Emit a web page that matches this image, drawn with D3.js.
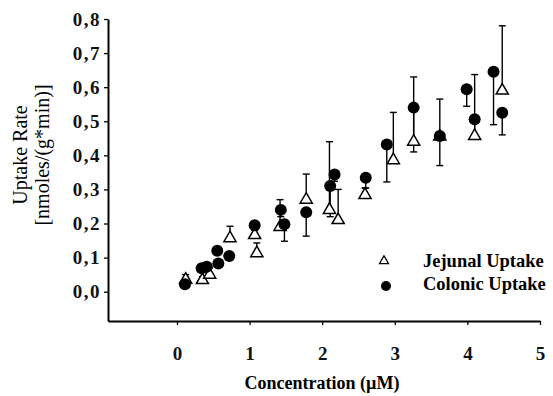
<!DOCTYPE html>
<html>
<head>
<meta charset="utf-8">
<script src="https://cdn.jsdelivr.net/npm/d3@7"></script>
<style>
  body { margin: 0; background: #fff; }
  svg { display: block; }
</style>
</head>
<body>
<figure id="chart" style="margin:0"></figure>
<script>
// jejunal uptake (open triangles, error bars drawn upward)
const jejConc = [0.12, 0.35, 0.45, 0.73, 1.07, 1.10, 1.42, 1.78, 2.10, 2.22, 2.59, 2.98, 3.26, 3.62, 4.10, 4.48]
const jejRate = [0.035, 0.034, 0.05, 0.157, 0.166, 0.113, 0.19, 0.27, 0.24, 0.21, 0.284, 0.386, 0.44, 0.455, 0.457, 0.59]
const jejErr  = [0.015, 0.01, 0.02, 0.035, 0.03, 0.03, 0.08, 0.075, 0.2, 0.09, 0.02, 0.14, 0.19, 0.11, 0.18, 0.19]

// colonic uptake (filled circles, error bars drawn downward)
const colConc = [0.11, 0.34, 0.41, 0.555, 0.57, 0.72, 1.07, 1.43, 1.48, 1.78, 2.11, 2.17, 2.60, 2.89, 3.26, 3.62, 3.99, 4.10, 4.36, 4.48]
const colRate = [0.022, 0.069, 0.073, 0.12, 0.083, 0.105, 0.195, 0.24, 0.198, 0.233, 0.31, 0.344, 0.334, 0.432, 0.54, 0.457, 0.594, 0.506, 0.645, 0.525]
const colErr  = [0.01, 0.01, 0.015, 0.01, 0.01, 0.01, 0.015, 0.02, 0.05, 0.07, 0.09, 0.02, 0.03, 0.11, 0.13, 0.087, 0.05, 0.056, 0.155, 0.065]

const xTicks = [0, 1, 2, 3, 4, 5]
const yTicks = [0, 0.1, 0.2, 0.3, 0.4, 0.5, 0.6, 0.7, 0.8]
const legendLabels = ["Jejunal Uptake", "Colonic Uptake"]

const width = 553
const height = 396
const serif = "'Liberation Serif', 'DejaVu Serif', serif"

const x = d3.scaleLinear().domain([-0.95, 5]).range([108, 540])
const y = d3.scaleLinear().domain([-0.086, 0.8]).range([321, 19])

const svg = d3.select("#chart").append("svg")
  .attr("width", width)
  .attr("height", height)
  .attr("font-family", serif)

const fmt = d => d3.format(".1f")(d).replace(".", ",")

// axes
const xAxis = svg.append("g")
  .attr("transform", `translate(0,${y.range()[0]})`)
  .call(d3.axisBottom(x).tickValues(xTicks).tickSize(4).tickSizeOuter(0).tickPadding(22).tickFormat(d3.format("d")))
const yAxis = svg.append("g")
  .attr("transform", `translate(${x.range()[0]},0)`)
  .call(d3.axisLeft(y).tickValues(yTicks).tickSize(4).tickSizeOuter(0).tickPadding(3).tickFormat(fmt))

for (const ax of [xAxis, yAxis]) {
  ax.select(".domain").attr("stroke", "#000").attr("stroke-width", 2)
  ax.selectAll(".tick line").attr("stroke", "#000").attr("stroke-width", 1.3)
  ax.selectAll(".tick text")
    .attr("font-family", serif)
    .attr("font-size", 19)
    .attr("font-weight", "bold")
    .attr("fill", "#111")
}
yAxis.selectAll(".tick text").attr("letter-spacing", 1.5)

// axis titles
svg.append("text")
  .attr("x", 322).attr("y", 389)
  .attr("text-anchor", "middle")
  .attr("font-size", 18)
  .attr("font-weight", "bold")
  .text("Concentration (\u00b5M)")

svg.append("g")
  .attr("transform", "translate(0,155) rotate(-90)")
  .call(g => g.append("text").attr("x", 0).attr("y", 27)
    .attr("text-anchor", "middle").attr("font-size", 20).text("Uptake Rate"))
  .call(g => g.append("text").attr("x", 0).attr("y", 49)
    .attr("text-anchor", "middle").attr("font-size", 20).text("[nmoles/(g*min)]"))

const jej = jejConc.map((c, i) => ({ c, v: jejRate[i], e: jejErr[i] }))
const col = colConc.map((c, i) => ({ c, v: colRate[i], e: colErr[i] }))

const capW = 3.5
const drawBars = (data, dir) => {
  const g = svg.append("g").attr("stroke", "#000").attr("stroke-width", 1.4)
  g.selectAll("line.bar").data(data).join("line")
    .attr("x1", d => x(d.c)).attr("x2", d => x(d.c))
    .attr("y1", d => y(d.v)).attr("y2", d => y(d.v + dir * d.e))
  g.selectAll("line.cap").data(data).join("line")
    .attr("x1", d => x(d.c) - capW).attr("x2", d => x(d.c) + capW)
    .attr("y1", d => y(d.v + dir * d.e)).attr("y2", d => y(d.v + dir * d.e))
}

drawBars(jej, 1)
drawBars(col, -1)

const tri = d3.symbol().type(d3.symbolTriangle).size(64)

svg.append("g").selectAll("path").data(jej).join("path")
  .attr("transform", d => `translate(${x(d.c)},${y(d.v)})`)
  .attr("d", tri)
  .attr("fill", "#fff")
  .attr("stroke", "#000")
  .attr("stroke-width", 1.5)

svg.append("g").selectAll("circle").data(col).join("circle")
  .attr("cx", d => x(d.c))
  .attr("cy", d => y(d.v))
  .attr("r", 6)
  .attr("fill", "#000")

// legend
const legend = svg.append("g")
legend.append("path")
  .attr("transform", "translate(384,261)")
  .attr("d", d3.symbol().type(d3.symbolTriangle).size(36))
  .attr("fill", "#fff").attr("stroke", "#000").attr("stroke-width", 1.3)
legend.append("circle")
  .attr("cx", 386).attr("cy", 286).attr("r", 5).attr("fill", "#000")
legend.selectAll("text").data(legendLabels).join("text")
  .attr("x", 423)
  .attr("y", (d, i) => 267 + i * 23)
  .attr("font-size", 18.5)
  .attr("font-weight", "bold")
  .text(d => d)
</script>
</body>
</html>
